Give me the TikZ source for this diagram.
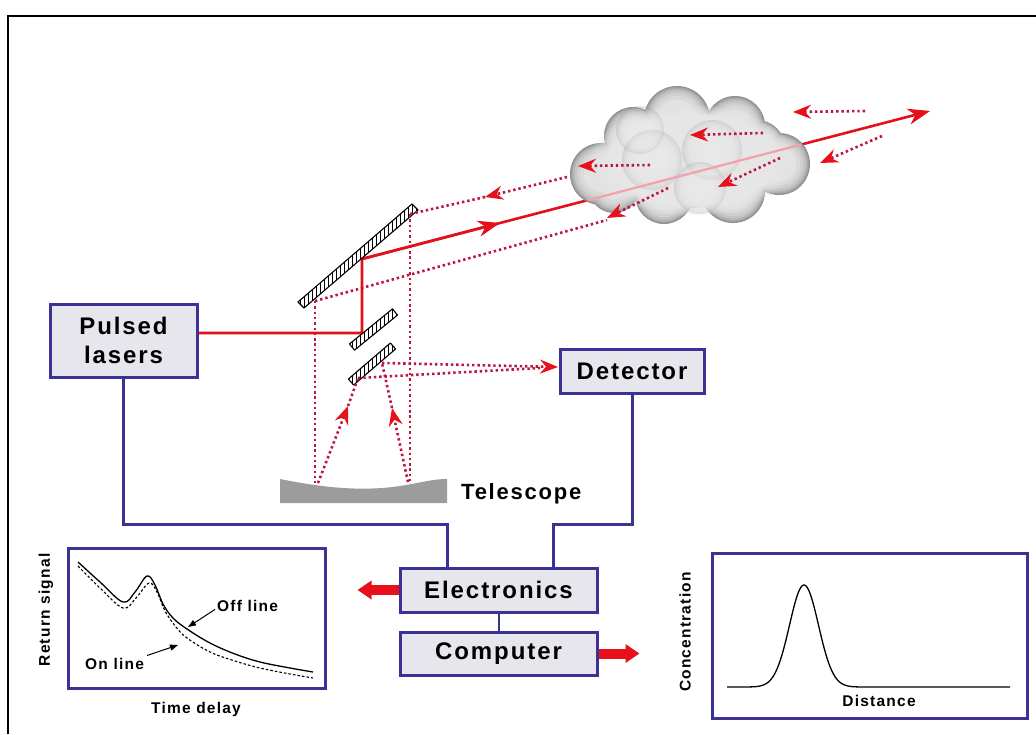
\documentclass[tikz,border=0pt]{standalone}
\usepackage{fontspec}
\setmainfont{Liberation Sans}
\newfontfamily\boxfont{Liberation Sans}[LetterSpace=8]
\usetikzlibrary{arrows.meta,calc,fadings}

\definecolor{frameblue}{HTML}{3A3294}
\definecolor{boxgray}{HTML}{E6E6EC}
\definecolor{beamred}{HTML}{E3101C}
\definecolor{beampink}{HTML}{F2A0AA}
\definecolor{dotred}{HTML}{BE1440}
\definecolor{tipred}{HTML}{E8101A}
\definecolor{telegray}{HTML}{9C9C9C}
\definecolor{cloudlight}{HTML}{E6E6E6}
\definecolor{puffin}{HTML}{EDEDED}
\definecolor{puffmid}{HTML}{E2E2E2}
\definecolor{puffrim}{HTML}{C4C4C4}
\definecolor{puffout}{HTML}{A0A0A0}

% the path's bounding box spans -25bp..25bp of the shading
\pgfdeclareradialshading{puff}{\pgfpoint{0bp}{0bp}}{%
  color(0bp)=(puffin); color(12bp)=(puffin); color(19bp)=(puffmid);
  color(23bp)=(puffrim); color(25bp)=(puffout); color(50bp)=(puffout)}

% outline of the cloud, every puff shrunk by #1
\newcommand{\cloudshape}[1]{%
  (690,158) circle[radius={50-#1}] (601,174) circle[radius={31-#1}]
  (633,136) circle[radius={29-#1}] (677,119) circle[radius={33-#1}]
  (735,126) circle[radius={30-#1}] (779,164) circle[radius={31-#1}]
  (733,191) circle[radius={32-#1}] (664,195) circle[radius={29-#1}]
  (614,188) circle[radius={25-#1}] (757,148) circle[radius={28-#1}]}

% hatched plane mirror given by its four corners
\newcommand{\hatchmirror}[4]{%
  \begin{scope}
    \clip #1 -- #2 -- #3 -- #4 -- cycle;
    \foreach \hx in {280,284,...,430}
      \draw[line width=0.9pt] (\hx,180) -- (\hx,400);
  \end{scope}
  \draw[line width=1.1pt, line join=round] #1 -- #2 -- #3 -- #4 -- cycle;}

\begin{document}
\begin{tikzpicture}[x=1pt,y=-1pt,
  unit/.style={draw=frameblue, line width=3pt, fill=boxgray, inner sep=0pt,
    align=center, font=\boxfont\bfseries\fontsize{24}{29}\selectfont},
  plotbox/.style={draw=frameblue, line width=3pt, fill=white, inner sep=0pt},
  wire/.style={frameblue, line width=3pt},
  beam/.style={beamred, line width=2.6pt},
  ret/.style={dotred, line width=2.6pt, dash pattern=on 2.4pt off 2.9pt},
  rettip/.style={-{Stealth[length=18pt,width=14pt,inset=6pt,color=tipred]}},
  beamtip/.style={-{Stealth[length=22pt,width=16pt,inset=7pt,color=beamred]}},
  fat/.style={tipred, line width=10pt, -{Triangle[length=14pt,width=18pt]}},
  lbl/.style={inner sep=0pt, font=\boxfont\bfseries\fontsize{15.5}{18}\selectfont},
  pointer/.style={black, line width=1pt, -{Triangle[length=8pt,width=6pt]}},
  curve/.style={black, line width=1.3pt}]

\useasboundingbox (0,0) rectangle (1036,734);
\fill[white] (0,0) rectangle (1036,734);
\draw[line width=2.6pt] (8,734) -- (8,16) -- (1036,16);

% ---- units ----
\node[unit, minimum width=147pt, minimum height=73pt] (lasers) at (123.5,340.5) {Pulsed\\lasers};
\node[unit, minimum width=144pt, minimum height=44pt] (det) at (632,371) {Detector};
\node[unit, minimum width=197pt, minimum height=44pt] (elec) at (498.5,590) {Electronics};
\node[unit, minimum width=197pt, minimum height=43pt] (comp) at (498.5,653.5) {Computer};

% ---- wiring ----
\coordinate (jL) at (447,524);
\coordinate (jR) at (553,524);
\draw[wire] (lasers.south) |- (jL) -- (jL |- elec.north);
\draw[wire] (det.south) |- (jR) -- (jR |- elec.north);
\draw[frameblue, line width=2pt] (elec.south) -- (comp.north);
\draw[fat] (elec.west) -- ++(-41,0);
\draw[fat] (comp.east) -- ++(41,0);

% ---- telescope ----
\fill[telegray] (280,479) .. controls (320,487) and (360,492) .. (400,486)
  .. controls (420,483) and (432,479) .. (447,479) -- (447,503) -- (280,503) -- cycle;
\node[anchor=base west, inner sep=0pt, font=\boxfont\bfseries\fontsize{22}{26}\selectfont]
  (tele) at (461,499) {Telescope};

% ---- laser beam ----
\coordinate (bT1) at (362,333);
\coordinate (bT2) at (362,259);
\coordinate (bMid) at (500,223);
\coordinate (bEnd) at (930,111);
\draw[beam] (lasers.east |- bT1) -- (bT1) -- (bT2) -- (bMid);
\draw[beam, beamtip] (bT2) -- (bMid);
\draw[beam, beamtip] (bMid) -- (bEnd);

% ---- cloud: soft rim built from shrinking layers ----
\foreach \d/\c in {0/8F8F8F, 1.2/A3A3A3, 2.6/B5B5B5, 4.4/C4C4C4, 6.8/D0D0D0,
    9.8/DADADA, 13.5/E2E2E2} {
  \definecolor{cloudtone}{HTML}{\c}
  \fill[cloudtone] \cloudshape{\d};
}
% smooth light body
\fill[cloudlight, path fading=circle with fuzzy edge 20 percent]
  (692,160) ellipse[x radius=104, y radius=56];
% faint inner puffs
\foreach \cx/\cy/\cr in {652/160/30, 712/150/30, 700/188/26, 640/130/24}
  \shade[shading=puff, opacity=0.3] (\cx,\cy) circle[radius=\cr];
\begin{scope}
  \clip \cloudshape{1.5};
  \draw[beampink, line width=2.2pt] (bT2) -- (bEnd);
\end{scope}

% ---- mirrors ----
\hatchmirror{(298,302)}{(304,308)}{(418,210)}{(412,204)}
\hatchmirror{(349.5,343.9)}{(354.5,350.1)}{(397.5,315.1)}{(392.5,308.9)}
\hatchmirror{(348.4,379)}{(353.6,385)}{(395.6,349)}{(390.4,343)}

% ---- return light ----
\coordinate (mL) at (315,301);
\coordinate (mR) at (410,214);
\coordinate (tL) at (315,483);
\coordinate (tR) at (410,483);
\coordinate (sA) at (358,378);
\coordinate (sB) at (382,363);
\coordinate (dIn) at (558,367);
\draw[ret] (mL) -- (tL);
\draw[ret] (mR) -- (tR);
\draw[ret, rettip] (318,483) -- (348,406);
\draw[ret] (348,406) -- (sA);
\draw[ret, rettip] (408,482) -- (392,408);
\draw[ret] (392,408) -- (sB);
\draw[ret] (sA) -- (540,368);
\draw[ret, rettip] (sB) -- (dIn);
\draw[ret] (mL) -- (607,220);
\draw[ret, rettip] (567,177) -- (485,197);
\draw[ret] (485,197) -- (mR);
\draw[ret, rettip] (865,111) -- (793,112);
\draw[ret, rettip] (763,133) -- (690,135);
\draw[ret, rettip] (650,165) -- (578,166);
\draw[ret, rettip] (882,136) -- (820,163);
\draw[ret, rettip] (780,158) -- (718,187);
\draw[ret, rettip] (668,188) -- (607,218);

% ---- return signal plot ----
\node[plotbox, minimum width=257pt, minimum height=140pt] (pa) at (196.5,618) {};
\draw[curve] plot[smooth, tension=0.6] coordinates {(78,562) (100,582) (123,602) (135,592)
  (147,576) (155,585) (163,604) (173,618) (187,629) (210,643) (235,654) (260,662) (290,668) (313,672)};
\draw[curve, line width=1.1pt, dash pattern=on 2.6pt off 2pt] plot[smooth, tension=0.6]
  coordinates {(78,566) (100,588) (123,608) (136,598) (149,583) (157,592) (165,611) (176,627)
  (187,638) (210,652) (235,661) (260,668) (290,674) (313,678)};
\node[lbl, anchor=base west] (off) at (217,611) {Off line};
\node[lbl, anchor=base west] (on) at (85,669) {On line};
\draw[pointer] (off.west) ++(-2,4) -- (188,627);
\draw[pointer] (on.east) ++(3,-8) -- (178,645);
\node[lbl, anchor=base] (td) at (196,713) {Time delay};
\node[lbl, rotate=90] (rs) at (46,610) {Return signal};

% ---- concentration plot ----
\node[plotbox, minimum width=315pt, minimum height=165pt] (pb) at (869.5,635.5) {};
\draw[curve] (727,687) -- plot[domain=745:870, samples=120]
  (\x, {687-102*exp(-((\x-804)/14.5)^2/2)}) -- (1010,687);
\node[lbl, anchor=base] (dist) at (879,706) {Distance};
\node[lbl, rotate=90] (conc) at (685,632) {Concentration};

\end{tikzpicture}
\end{document}
